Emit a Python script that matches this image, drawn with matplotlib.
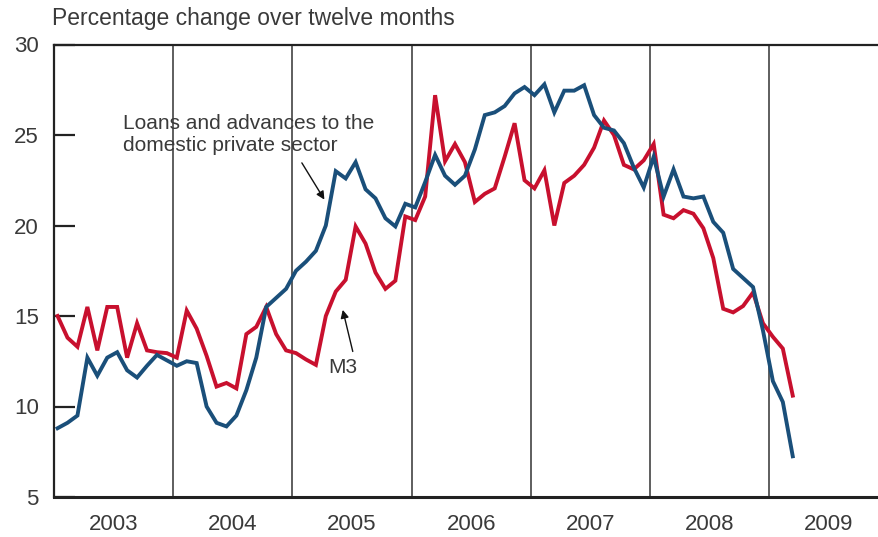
import numpy as np
import matplotlib.pyplot as plt

# monthly data, Jan 2003 - Mar 2009
loans = [8.8, 9.1, 9.5, 12.7, 11.7, 12.7, 13.0, 12.0, 11.6, 12.25, 12.85, 12.55,
         12.25, 12.5, 12.4, 10.0, 9.1, 8.9, 9.5, 10.9, 12.7, 15.5, 16.0, 16.5,
         17.5, 18.0, 18.6, 20.0, 23.0, 22.6, 23.5, 22.0, 21.5, 20.4, 19.95, 21.2,
         21.0, 22.4, 23.9, 22.75, 22.25, 22.75, 24.2, 26.1, 26.25, 26.6, 27.3, 27.65,
         27.2, 27.8, 26.25, 27.45, 27.45, 27.75, 26.1, 25.4, 25.25, 24.55, 23.2, 22.1,
         23.8, 21.6, 23.1, 21.6, 21.5, 21.6, 20.2, 19.6, 17.6, 17.1, 16.6, 14.2,
         11.4, 10.25, 7.25]
m3 = [15.0, 13.8, 13.3, 15.5, 13.1, 15.5, 15.5, 12.7, 14.6, 13.1, 13.0, 12.95,
      12.7, 15.3, 14.3, 12.8, 11.1, 11.3, 11.0, 14.0, 14.4, 15.5, 14.0, 13.1,
      12.95, 12.6, 12.3, 15.0, 16.35, 17.0, 19.95, 19.0, 17.4, 16.5, 16.95, 20.5,
      20.3, 21.6, 27.2, 23.55, 24.5, 23.5, 21.3, 21.75, 22.05, 23.8, 25.65, 22.5,
      22.05, 23.05, 20.0, 22.35, 22.75, 23.35, 24.3, 25.8, 25.0, 23.35, 23.1, 23.6,
      24.5, 20.6, 20.4, 20.85, 20.65, 19.85, 18.2, 15.4, 15.2, 15.55, 16.3, 14.6,
      13.85, 13.2, 10.6]
years = [2003, 2004, 2005, 2006, 2007, 2008, 2009]
yticks = [5, 10, 15, 20, 25, 30]

x = 2003.03 + np.arange(len(loans)) / 12

plt.rcParams['font.family'] = ['Liberation Sans', 'DejaVu Sans']
txt = '#3a3a3a'

fig = plt.figure(figsize=(8.79, 5.37), dpi=100)
ax = fig.add_axes([54 / 879, 1 - 497 / 537, 1 - 54 / 879, (497 - 44.5) / 537])

for yr in years[1:]:
    ax.axvline(yr, color='#333333', lw=1.1, zorder=1)

ax.plot(x, loans, color='#1a4f7a', lw=2.8, zorder=3, solid_joinstyle='miter')
ax.plot(x, m3, color='#c8102e', lw=2.8, zorder=2, solid_joinstyle='miter')

ax.set_xlim(2003, 2009.92)
ax.set_ylim(5, 30)

ax.spines['right'].set_visible(False)
for s in ['left', 'top']:
    ax.spines[s].set_linewidth(1.6)
    ax.spines[s].set_color('#222222')
ax.spines['bottom'].set_linewidth(2.2)
ax.spines['bottom'].set_color('#222222')

ax.set_yticks(yticks)
ax.tick_params(axis='y', direction='in', length=15, width=1.6, color='#222222',
               pad=11, labelsize=16, labelcolor=txt)
ax.set_xticks([y + 0.5 for y in years], [str(y) for y in years])
ax.tick_params(axis='x', length=0, pad=12, labelsize=16, labelcolor=txt)

fig.text(52 / 879, 1 - 19 / 537, 'Percentage change over twelve months',
         fontsize=16.5, color=txt, va='center', ha='left')

ax.text(2003.58, 25.05, 'Loans and advances to the\ndomestic private sector',
        fontsize=15, color=txt, ha='left', va='center', linespacing=1.2)
ax.annotate('', xy=(2005.268, 21.43), xytext=(2005.079, 23.46),
            arrowprops=dict(arrowstyle='-|>', color='#111111', lw=1.0,
                            mutation_scale=12, shrinkA=0, shrinkB=0))
ax.text(2005.426, 12.13, 'M3', fontsize=15, color=txt, ha='center', va='center')
ax.annotate('', xy=(2005.422, 15.34), xytext=(2005.506, 13.04),
            arrowprops=dict(arrowstyle='-|>', color='#111111', lw=1.0,
                            mutation_scale=12, shrinkA=0, shrinkB=0))

fig.savefig('out.png', dpi=100)
